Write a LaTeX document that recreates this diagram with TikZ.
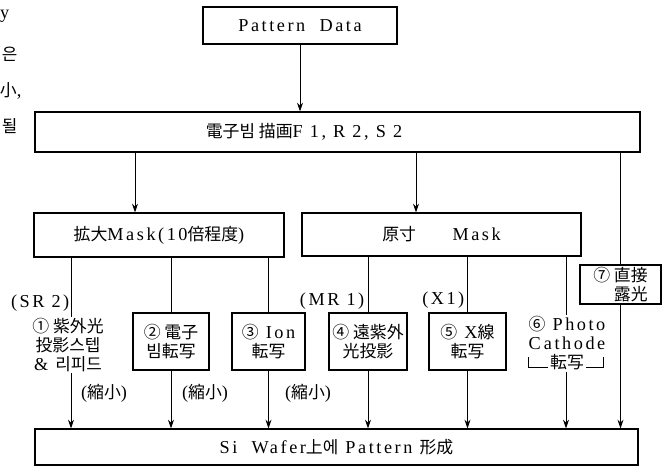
\documentclass[tikz,border=0pt]{standalone}
\usepackage{fontspec}
\setmainfont{Liberation Serif}[LetterSpace=14,Scale=1.08]
\newfontfamily\cjk{Noto Sans CJK JP}
\usepackage{tikz}
\usetikzlibrary{arrows.meta}
\newcommand{\jp}[1]{{\cjk #1}}
\def\pxu{0.025cm}
\tikzset{
  ar/.style={-{Stealth[length=2.2mm,width=1.5mm]},line width=0.6pt},
  ln/.style={line width=0.6pt},
  box/.style={draw,line width=0.8pt,inner sep=1pt,align=center},
  sz/.style 2 args={minimum width=#1*\pxu,minimum height=#2*\pxu},
  lbl/.style={inner sep=1pt,align=center}
}

\begin{document}
\begin{tikzpicture}[x=\pxu,y=-\pxu,font=\fontsize{12}{13.5}\selectfont]
\useasboundingbox (0,0) rectangle (670,469);
% cut-off page text on the left
\node[lbl,anchor=east] (m1) at (11,16) {y};
\node[lbl,anchor=east] (m2) at (19,54) {\jp{은}};
\node[lbl,anchor=east] (m3) at (23,91) {\jp{小},};
\node[lbl,anchor=east] (m4) at (19,126) {\jp{될}};
% main boxes
\node[box,sz={194}{37}] (data) at (300,25.5) {Pattern~~Data};
\node[box,sz={605}{40}] (ebeam) at (337.5,132) {};
\node[lbl] (ebtxt) at (304,132) {\jp{電子빔 描画}F 1, R 2, S 2};
\node[box,sz={250}{44}] (bigmask) at (159,235) {\jp{拡大}Mask(10\jp{倍程度})};
\node[box,sz={279}{43}] (realmask) at (441.5,234.5) {\jp{原寸}\hspace{2em}Mask};
\node[box,sz={603}{36}] (wafer) at (336.5,447) {Si~~Wafer\jp{上에} Pattern \jp{形成}};
% methods
\node[lbl] (b1) at (68,345) {\jp{① 紫外光}\\\jp{投影스텝}\\\&\ \jp{리피드}};
\node[box,sz={76}{57}] (b2) at (171,341.5) {\jp{② 電子}\\\jp{빔転写}};
\node[box,sz={73}{57}] (b3) at (268.5,341.5) {\jp{③} Ion\\\jp{転写}};
\node[box,sz={78}{57}] (b4) at (368,341.5) {\jp{④ 遠紫外}\\\jp{光投影}};
\node[box,sz={77}{57}] (b5) at (467.5,341.5) {\jp{⑤} X\jp{線}\\\jp{転写}};
\node[lbl] (b6) at (567,343) {\jp{⑥} Photo\\C\,athode\\\jp{転写}};
\node[box,sz={81}{39},align=right] (b7) at (620.5,284.5) {\jp{⑦ 直接}\\\jp{露光}};
\draw[ln] (528,357) |- (548,367) (586,367) -| (603,357);
% side labels
\node[lbl,anchor=east] (sr2) at (71,303) {(SR 2)};
\node[lbl,anchor=east] (mr1) at (366,301) {(MR 1)};
\node[lbl,anchor=east] (x1) at (466,300) {(X1)};
\node[lbl] (s1) at (104,393) {(\jp{縮小})};
\node[lbl] (s2) at (205,393) {(\jp{縮小})};
\node[lbl] (s3) at (308,393) {(\jp{縮小})};
% connectors
\draw[ar] (data) -- (ebeam.north -| data);
\draw[ar] (ebeam.south -| 135,0) -- (bigmask.north -| 135,0);
\draw[ar] (ebeam.south -| 416,0) -- (realmask.north -| 416,0);
\draw[ln] (ebeam.south -| b7) -- (b7);
\draw[ar] (b7) -- (wafer.north -| b7);
\draw[ln] (bigmask.south -| 71,0) -- (b1.north -| 71,0);
\draw[ar] (b1.south -| 71,0) -- (wafer.north -| 71,0);
\draw[ln] (bigmask.south -| b2) -- (b2);
\draw[ar] (b2) -- (wafer.north -| b2);
\draw[ln] (bigmask.south -| b3) -- (b3);
\draw[ar] (b3) -- (wafer.north -| b3);
\draw[ln] (realmask.south -| b4) -- (b4);
\draw[ar] (b4) -- (wafer.north -| b4);
\draw[ln] (realmask.south -| b5) -- (b5);
\draw[ar] (b5) -- (wafer.north -| b5);
\draw[ln] (realmask.south -| 566,0) -- (b6.north -| 566,0);
\draw[ar] (b6.south -| 566,0) -- (wafer.north -| 566,0);
\end{tikzpicture}
\end{document}
